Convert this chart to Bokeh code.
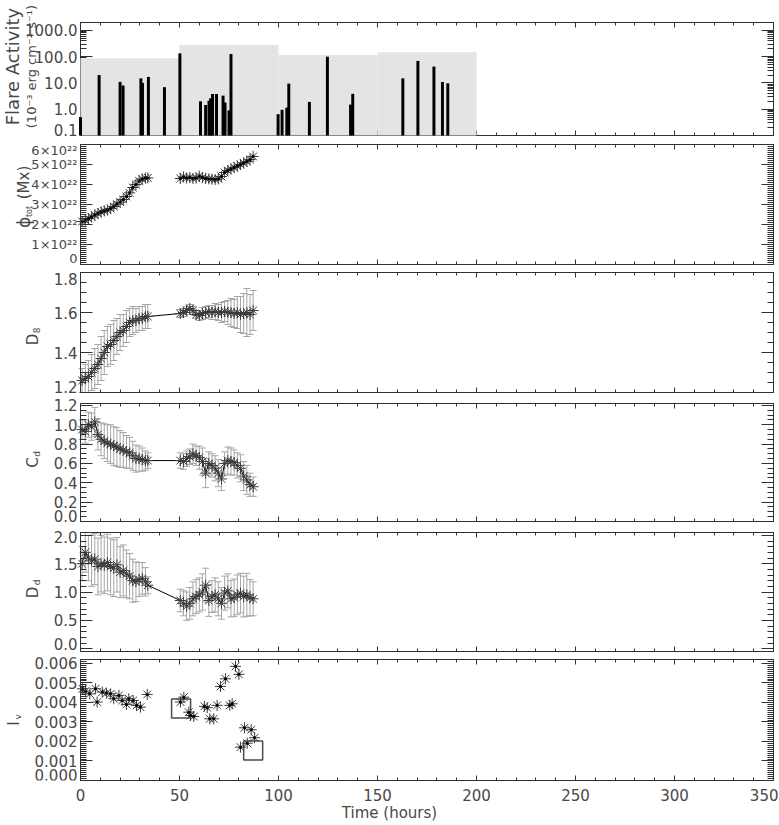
import numpy as np
from bokeh.plotting import figure
from bokeh.layouts import column
from bokeh.models import (Range1d, LinearAxis, LogAxis, FixedTicker,
                          PrintfTickFormatter, Label)
from bokeh.embed import file_html
from bokeh.resources import INLINE

# ---------------- data ----------------
# flare events (hours, 10^-3 erg cm^-2 s^-1)
flare_t = [0.0, 9.4, 20.0, 21.5, 30.5, 31.3, 34.3, 42.4, 50.2, 60.6, 63.2, 64.9,
           65.7, 66.7, 68.7, 72.0, 73.0, 75.0, 76.0, 99.8, 101.8, 104.2, 105.2,
           115.6, 124.7, 136.4, 137.5, 162.8, 170.4, 178.5, 182.8, 185.5]
flare_v = [0.5, 20, 11, 8, 15, 10, 17, 6.9, 134, 2.0, 1.45, 2.1,
           2.6, 3.8, 3.8, 3.3, 1.8, 0.9, 126, 0.65, 0.95, 1.15, 9.4,
           1.9, 100, 1.5, 3.85, 15, 69, 42, 10.9, 9.7]
# 50-hour bins of flare activity
bin_start = [0, 50, 100, 150]
bin_end = [50, 100, 150, 200]
bin_total = [87, 276, 116, 146]

# magnetogram times (hours)
t_seg1 = [0.8, 2.4, 4.0, 5.6, 7.2, 8.8, 10.4, 12.0, 13.6, 15.2, 16.8, 18.4,
          20.0, 21.6, 23.2, 24.8, 26.4, 28.0, 29.6, 31.2, 32.8, 34.0]
t_seg2 = [50.4, 52.0, 53.6, 55.2, 56.8, 58.4, 60.0, 61.6, 63.2, 64.8, 66.4, 68.0,
          69.6, 71.2, 72.8, 74.4, 76.0, 77.6, 79.2, 80.8, 82.4, 84.0, 85.6, 87.2]

# total flux, units of 1e22 Mx
phi_seg1 = [2.15, 2.22, 2.30, 2.38, 2.47, 2.55, 2.63, 2.68, 2.72, 2.80, 2.90, 3.02,
            3.12, 3.25, 3.40, 3.58, 3.85, 4.00, 4.18, 4.28, 4.32, 4.33]
phi_seg2 = [4.30, 4.38, 4.32, 4.35, 4.30, 4.32, 4.42, 4.35, 4.30, 4.28, 4.27, 4.25,
            4.28, 4.40, 4.60, 4.70, 4.78, 4.85, 4.92, 5.00, 5.08, 5.15, 5.25, 5.40]

# D_8
d8_seg1 = [1.26, 1.27, 1.28, 1.30, 1.32, 1.34, 1.37, 1.40, 1.43, 1.44, 1.46, 1.48,
           1.50, 1.51, 1.53, 1.55, 1.56, 1.56, 1.57, 1.57, 1.58, 1.58]
d8_seg2 = [1.595, 1.60, 1.61, 1.62, 1.61, 1.59, 1.585, 1.595, 1.60, 1.605, 1.60, 1.605,
           1.60, 1.60, 1.605, 1.60, 1.60, 1.595, 1.60, 1.59, 1.595, 1.60, 1.59, 1.61]
d8_err1 = [0.06, 0.07, 0.08, 0.09, 0.10, 0.10, 0.11, 0.11, 0.10, 0.10, 0.10, 0.09,
           0.09, 0.08, 0.08, 0.07, 0.07, 0.06, 0.06, 0.06, 0.06, 0.06]
d8_err2 = [0.02, 0.02, 0.02, 0.02, 0.02, 0.02, 0.025, 0.03, 0.03, 0.03, 0.035, 0.04,
           0.04, 0.05, 0.05, 0.06, 0.07, 0.07, 0.08, 0.09, 0.10, 0.12, 0.10, 0.10]

# C_d
cd_seg1 = [0.95, 0.93, 1.00, 0.98, 1.03, 0.90, 0.85, 0.83, 0.81, 0.80, 0.78, 0.77,
           0.75, 0.74, 0.72, 0.71, 0.68, 0.65, 0.65, 0.64, 0.63, 0.63]
cd_seg2 = [0.63, 0.62, 0.65, 0.67, 0.70, 0.68, 0.66, 0.62, 0.50, 0.60, 0.58, 0.55,
           0.50, 0.44, 0.60, 0.63, 0.62, 0.61, 0.58, 0.55, 0.47, 0.43, 0.38, 0.36]
cd_err1 = [0.10, 0.12, 0.13, 0.14, 0.15, 0.16, 0.17, 0.18, 0.19, 0.20, 0.20, 0.20,
           0.19, 0.18, 0.17, 0.16, 0.15, 0.14, 0.13, 0.12, 0.10, 0.08]
cd_err2 = [0.08, 0.08, 0.08, 0.08, 0.10, 0.10, 0.12, 0.14, 0.15, 0.12, 0.12, 0.13,
           0.14, 0.12, 0.12, 0.14, 0.14, 0.13, 0.13, 0.14, 0.15, 0.15, 0.12, 0.10]

# D_d
dd_seg1 = [1.50, 1.70, 1.60, 1.55, 1.58, 1.45, 1.50, 1.47, 1.52, 1.45, 1.42, 1.48,
           1.35, 1.38, 1.32, 1.28, 1.20, 1.18, 1.22, 1.24, 1.18, 1.12]
dd_seg2 = [0.85, 0.80, 0.75, 0.80, 0.88, 0.92, 0.95, 1.00, 1.12, 0.85, 0.92, 0.95,
           0.88, 0.80, 0.98, 1.02, 0.88, 0.90, 0.95, 0.98, 0.92, 0.95, 0.90, 0.88]
dd_err1 = [0.30, 0.35, 0.40, 0.45, 0.45, 0.50, 0.50, 0.50, 0.50, 0.50, 0.50, 0.48,
           0.45, 0.45, 0.42, 0.40, 0.38, 0.35, 0.30, 0.28, 0.25, 0.15]
dd_err2 = [0.20, 0.22, 0.25, 0.28, 0.30, 0.30, 0.30, 0.32, 0.30, 0.28, 0.28, 0.30,
           0.30, 0.28, 0.30, 0.30, 0.32, 0.33, 0.35, 0.35, 0.36, 0.38, 0.32, 0.30]

# I_v
iv_t = [1.0, 2.5, 4.7, 7.6, 8.4, 11.0, 13.1, 15.2, 16.8, 19.4, 21.0, 23.2, 24.4,
        26.6, 28.3, 30.3, 33.7,
        50.5, 52.2, 54.7, 55.6, 57.2, 62.6, 64.0, 65.3, 67.3, 69.0, 70.7, 73.2,
        75.4, 76.6, 78.3, 80.0, 80.8, 82.8, 84.2, 86.2, 87.9]
iv_v = [0.00470, 0.00458, 0.00444, 0.00470, 0.00402, 0.00453, 0.00448, 0.00444,
        0.00419, 0.00436, 0.00410, 0.00390, 0.00419, 0.00410, 0.00385, 0.00376, 0.00441,
        0.00402, 0.00427, 0.00350, 0.00333, 0.00328, 0.00380, 0.00373, 0.00316,
        0.00316, 0.00385, 0.00482, 0.00521, 0.00385, 0.00393, 0.00585, 0.00544,
        0.00171, 0.00270, 0.00191, 0.00260, 0.00219]
iv_box_t = [50.8, 87.2]
iv_box_v = [0.00369, 0.00154]

x_major = [0, 50, 100, 150, 200, 250, 300, 350]
x_minor = [10 * i for i in range(36)]
X_MIN, X_MAX = 0, 350

# ---------------- styling helpers ----------------
FONT = "DejaVu Sans"
TXT = "#484848"
AX = "#303030"
W = 778
# the frame spans the full width; the time axis 0..350 h occupies px 80..773
PX_PER_H = 1.98
xr = Range1d(-80 / PX_PER_H, (W - 80) / PX_PER_H)
EDGE_SHIFT = 6  # px: end labels are pulled inside the box, as in the original


def panel(height, band_h, pad_top, pad_bottom, lo, hi, log=False, border_bottom=0):
    """Figure whose frame covers the whole canvas; [lo, hi] maps onto a band
    band_h px tall, pad_top px below the canvas top."""
    if log:
        span = (np.log10(hi) - np.log10(lo)) / band_h
        r = Range1d(10 ** (np.log10(lo) - pad_bottom * span),
                    10 ** (np.log10(hi) + pad_top * span))
    else:
        span = (hi - lo) / band_h
        r = Range1d(lo - pad_bottom * span, hi + pad_top * span)
    p = figure(width=W, height=height, x_range=xr, y_range=r,
               y_axis_type="log" if log else "linear",
               x_axis_location=None, y_axis_location=None,
               output_backend="svg", toolbar_location=None,
               min_border_left=0, min_border_right=0,
               min_border_top=0, min_border_bottom=border_bottom)
    p.grid.visible = False
    p.outline_line_color = None
    p.background_fill_color = "white"
    p.border_fill_color = "white"
    return p


def base_style(ax, line=False, size="15px"):
    ax.major_tick_out = 0
    ax.minor_tick_out = 0
    ax.axis_line_color = AX if line else None
    ax.axis_line_width = 1
    ax.major_tick_line_color = AX
    ax.minor_tick_line_color = AX
    ax.major_label_text_font = FONT
    ax.major_label_text_color = TXT
    ax.major_label_text_font_size = size


def tick_only(p, side, ticks, length, line, loc, bounds, log=False):
    Axis = LogAxis if log else LinearAxis
    ax = Axis(ticker=FixedTicker(ticks=[], minor_ticks=ticks), fixed_location=loc,
              bounds=bounds)
    base_style(ax, line=line)
    ax.major_tick_in = 0
    ax.minor_tick_in = length
    ax.major_label_standoff = 0
    p.add_layout(ax, side)


def add_axes(p, lo, hi, yt, ymin, fmt=None, overrides=None, log=False,
             xlabels=False, size="15px", shifts=None):
    tol = 1e-9 * (hi - lo)
    ymin = [m for m in ymin if lo - tol <= m <= hi + tol]
    if shifts is None:
        shifts = {}
        for t in yt:
            if abs(t - hi) <= tol:
                shifts[t] = -EDGE_SHIFT
            elif abs(t - lo) <= tol:
                shifts[t] = EDGE_SHIFT
    inner = [t for t in yt if t not in shifts]
    edges = [t for t in yt if t in shifts]
    Axis = LogAxis if log else LinearAxis
    # left: labelled interior ticks
    ax = Axis(ticker=FixedTicker(ticks=inner, minor_ticks=ymin), fixed_location=X_MIN,
              bounds=(lo, hi))
    if fmt is not None:
        ax.formatter = PrintfTickFormatter(format=fmt)
    if overrides is not None:
        ax.major_label_overrides = overrides
    base_style(ax, line=True, size=size)
    ax.major_tick_in = 12
    ax.minor_tick_in = 6
    ax.major_label_standoff = 3
    p.add_layout(ax, "left")
    tick_only(p, "left", edges, 12, False, X_MIN, (lo, hi), log)
    # labels near the box ends, pulled inward
    for t in edges:
        text = overrides[t] if overrides is not None else fmt % t
        p.add_layout(Label(x=X_MIN, y=t, x_offset=-3, y_offset=shifts[t], text=text,
                           text_align="right", text_baseline="middle", text_font=FONT,
                           text_font_size=size, text_color=TXT))
    # right: ticks only
    tick_only(p, "right", yt, 12, True, X_MAX, (lo, hi), log)
    tick_only(p, "right", ymin, 6, False, X_MAX, (lo, hi), log)
    # top: ticks only
    tick_only(p, "above", x_major, 5, True, hi, (X_MIN, X_MAX))
    tick_only(p, "above", x_minor, 3, False, hi, (X_MIN, X_MAX))
    # bottom
    if xlabels:
        bx = LinearAxis(ticker=FixedTicker(ticks=x_major, minor_ticks=x_minor),
                        bounds=(X_MIN, X_MAX))
        base_style(bx, line=True)
        bx.major_tick_in = 5
        bx.minor_tick_in = 3
        bx.major_label_standoff = 8
        bx.axis_label = "Time (hours)"
        bx.axis_label_text_font = FONT
        bx.axis_label_text_font_size = "15px"
        bx.axis_label_text_font_style = "normal"
        bx.axis_label_text_color = TXT
        bx.axis_label_standoff = 0
        p.add_layout(bx, "below")
    else:
        tick_only(p, "below", x_major, 5, True, lo, (X_MIN, X_MAX))
        tick_only(p, "below", x_minor, 3, False, lo, (X_MIN, X_MAX))


def ylab(p, parts):
    # parts: (text, x [hours], y [data], font size)
    for text, x, y, size in parts:
        p.add_layout(Label(x=x, y=y, text=text, angle=np.pi / 2,
                           text_align="center", text_baseline="middle",
                           text_font=FONT, text_font_size=f"{size}px", text_color=TXT))


def series(p, t, v, err=None, line=True, dots=False):
    t = np.asarray(t, float)
    v = np.asarray(v, float)
    if err is not None:
        e = np.asarray(err, float)
        p.segment(x0=t, y0=v - e, x1=t, y1=v + e, line_color="#a6a6a6", line_width=1)
        p.scatter(x=t, y=v - e, marker="dash", size=7, line_color="#a6a6a6", line_width=1)
        p.scatter(x=t, y=v + e, marker="dash", size=7, line_color="#a6a6a6", line_width=1)
    if line:
        p.line(x=t, y=v, line_color="black", line_width=1)
    p.scatter(x=t, y=v, marker="asterisk", size=11, line_color="#3c3c3c", line_width=1)
    if dots:
        p.scatter(x=t, y=v, marker="circle", size=3, fill_color="black", line_color=None)


# ---------------- panel 1: flare activity ----------------
Y1_MIN, Y1_MAX = 0.1, 2000
p1 = panel(139, 113, 22, 4, Y1_MIN, Y1_MAX, log=True)
p1.quad(left=bin_start, right=bin_end, bottom=Y1_MIN, top=bin_total,
        fill_color="#e4e4e4", line_color=None, level="overlay")
p1.vbar(x=flare_t, top=flare_v, bottom=Y1_MIN, width=1.5, fill_color="black",
        line_color=None, level="overlay")
log_minor = [m * 10.0 ** k for k in range(-1, 4) for m in range(2, 10)]
add_axes(p1, Y1_MIN, Y1_MAX, [0.1, 1, 10, 100, 1000], log_minor, fmt="%.1f", log=True)
ylab(p1, [("Flare Activity", -34.3, 42, 18),
          ("(10⁻³ erg cm⁻² s⁻¹)", -24.9, 42, 13)])

# ---------------- panel 2: total flux ----------------
p2 = panel(129, 120, 5, 4, 0, 6)
series(p2, t_seg1, phi_seg1, dots=True)
series(p2, t_seg2, phi_seg2, dots=True)
phi_over = {0: "0", 1: "1×10²²", 2: "2×10²²", 3: "3×10²²", 4: "4×10²²",
            5: "5×10²²", 6: "6×10²²"}
add_axes(p2, 0, 6, [0, 1, 2, 3, 4, 5, 6], [0.1 * i for i in range(61)],
         overrides=phi_over, size="13px")
ylab(p2, [("ϕ", -28.3, 2.1, 17), ("tot", -25.8, 2.65, 8), ("(Mx)", -28.3, 4.1, 15)])

# ---------------- panel 3: D_8 ----------------
p3 = panel(129, 120, 4, 5, 1.2, 1.8)
series(p3, t_seg1 + t_seg2, d8_seg1 + d8_seg2, err=d8_err1 + d8_err2)
add_axes(p3, 1.2, 1.8, [1.2, 1.4, 1.6, 1.8], [1.2 + 0.05 * i for i in range(13)], fmt="%.1f")
ylab(p3, [("D", -24.2, 1.465, 15), ("8", -22.2, 1.51, 9)])

# ---------------- panel 4: C_d ----------------
p4 = panel(129, 118, 6, 5, 0.0, 1.22)
series(p4, t_seg1 + t_seg2, cd_seg1 + cd_seg2, err=cd_err1 + cd_err2)
add_axes(p4, 0.0, 1.22, [0.0, 0.2, 0.4, 0.6, 0.8, 1.0, 1.2],
         [0.05 * i for i in range(25)], fmt="%.1f")
ylab(p4, [("C", -24.2, 0.61, 15), ("d", -22.2, 0.70, 9)])

# ---------------- panel 5: D_d ----------------
p5 = panel(129, 119, 6, 4, -0.05, 2.05)
series(p5, t_seg1 + t_seg2, dd_seg1 + dd_seg2, err=dd_err1 + dd_err2)
add_axes(p5, -0.05, 2.05, [0.0, 0.5, 1.0, 1.5, 2.0], [0.1 * i for i in range(21)],
         fmt="%.1f", shifts={0.0: 5, 2.0: -2})
ylab(p5, [("D", -24.2, 0.99, 15), ("d", -22.2, 1.17, 9)])

# ---------------- panel 6: I_v ----------------
p6 = panel(169, 121, 4, 0, 0.0, 0.0062, border_bottom=44)
p6.scatter(x=iv_box_t, y=iv_box_v, marker="square", size=19, fill_color=None,
           line_color="#4a4a4a", line_width=1.5)
series(p6, iv_t, iv_v, line=False, dots=True)
add_axes(p6, 0.0, 0.0062, [0.000, 0.001, 0.002, 0.003, 0.004, 0.005, 0.006],
         [0.0001 * i for i in range(63)], fmt="%.3f", xlabels=True)
ylab(p6, [("I", -33.8, 0.00292, 15), ("v", -31.8, 0.00326, 9)])

layout = column(p1, p2, p3, p4, p5, p6, spacing=0)
open("out.html", "w").write(file_html(layout, INLINE))
